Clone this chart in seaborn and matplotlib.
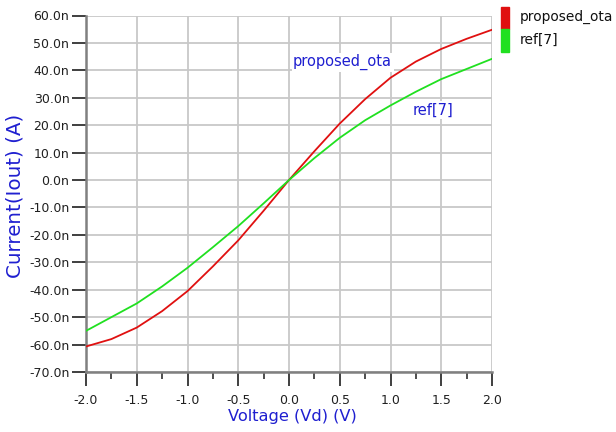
import matplotlib
matplotlib.use("Agg")
import matplotlib.pyplot as plt
import seaborn as sns
import pandas as pd
from matplotlib.patches import Rectangle
from matplotlib.ticker import FixedLocator, FixedFormatter, MultipleLocator

voltage = [-2.0, -1.75, -1.5, -1.25, -1.0, -0.75, -0.5, -0.25, 0.0,
           0.25, 0.5, 0.75, 1.0, 1.25, 1.5, 1.75, 2.0]
proposed_ota = [-60.7, -58.0, -53.8, -47.8, -40.5, -31.5, -22.0, -11.2, 0.0,
                10.5, 20.6, 29.5, 37.3, 43.2, 47.8, 51.5, 54.8]
ref7 = [-55.0, -50.0, -45.0, -38.8, -32.0, -24.5, -16.8, -8.5, 0.0,
        8.0, 15.4, 21.8, 27.2, 32.2, 36.8, 40.5, 44.2]
series_names = ["proposed_ota", "ref[7]"]
series_colors = ["#e01010", "#20e020"]

ytick_vals = [60, 50, 40, 30, 20, 10, 0, -10, -20, -30, -40, -50, -60, -70]
ytick_labels = ["60.0n", "50.0n", "40.0n", "30.0n", "20.0n", "10.0n", "0.0n",
                "-10.0n", "-20.0n", "-30.0n", "-40.0n", "-50.0n", "-60.0n", "-70.0n"]
xtick_vals = [-2.0, -1.5, -1.0, -0.5, 0.0, 0.5, 1.0, 1.5, 2.0]
xtick_labels = ["-2.0", "-1.5", "-1.0", "-0.5", "0.0", "0.5", "1.0", "1.5", "2.0"]

df = pd.DataFrame({
    "V": voltage * 2,
    "I": proposed_ota + ref7,
    "series": [series_names[0]] * len(voltage) + [series_names[1]] * len(voltage),
})

sns.set_theme(style="white")
plt.rcParams["font.family"] = ["DejaVu Sans"]

fig = plt.figure(figsize=(6.16, 4.32), dpi=100)
ax = fig.add_axes([86 / 616, 1 - 372 / 432, (492 - 86) / 616, (372 - 15.5) / 432])

sns.lineplot(data=df, x="V", y="I", hue="series", palette=series_colors,
             hue_order=series_names, ax=ax, legend=False, linewidth=1.3, zorder=3)

ax.set_xlim(-2.0, 2.0)
ax.set_ylim(-70, 60)
ax.yaxis.set_major_locator(FixedLocator(ytick_vals))
ax.yaxis.set_major_formatter(FixedFormatter(ytick_labels))
ax.xaxis.set_major_locator(FixedLocator(xtick_vals))
ax.xaxis.set_major_formatter(FixedFormatter(xtick_labels))
ax.xaxis.set_minor_locator(MultipleLocator(0.25))

ax.grid(True, which="major", color="#c8c8c8", linewidth=1.3, zorder=0)
ax.set_axisbelow(True)
for s in ["top", "right"]:
    ax.spines[s].set_visible(False)
for s in ["left", "bottom"]:
    ax.spines[s].set_color("#808080")
    ax.spines[s].set_linewidth(1.8)

ax.tick_params(axis="y", which="major", direction="out", length=10, width=1.3,
               color="#303030", labelsize=9, labelcolor="#202020", pad=2, left=True)
ax.tick_params(axis="x", which="major", direction="out", length=10, width=1.3,
               color="#303030", labelsize=9, labelcolor="#202020", pad=6, bottom=True)
ax.tick_params(axis="x", which="minor", direction="out", length=5, width=1.2,
               color="#303030", bottom=True)

ax.set_xlabel("Voltage (Vd) (V)", color="#1f1fd0", fontsize=11.7)
ax.set_ylabel("Current(Iout) (A)", color="#1f1fd0", fontsize=14.3)
ax.xaxis.set_label_coords(292 / 616, 1 - 417 / 432, transform=fig.transFigure)
ax.yaxis.set_label_coords(15 / 616, 1 - 196 / 432, transform=fig.transFigure)
ax.xaxis.label.set_va("center")
ax.yaxis.label.set_va("center")

ax.text(0.04, 43, "proposed_ota", color="#1f1fd0", fontsize=10.5, va="center", ha="left",
        bbox=dict(facecolor="white", edgecolor="none", pad=1), zorder=4)
ax.text(1.22, 25.5, "ref[7]", color="#1f1fd0", fontsize=10.5, va="center", ha="left",
        bbox=dict(facecolor="white", edgecolor="none", pad=1), zorder=4)

# legend on the right
fig.add_artist(Rectangle((501 / 616, 1 - 29 / 432), 8 / 616, 22 / 432,
                         transform=fig.transFigure, color=series_colors[0]))
fig.add_artist(Rectangle((501 / 616, 1 - 52 / 432), 8 / 616, 23 / 432,
                         transform=fig.transFigure, color=series_colors[1]))
fig.text(520 / 616, 1 - 17 / 432, series_names[0], fontsize=9.9, va="center", ha="left", color="#101010")
fig.text(520 / 616, 1 - 40 / 432, series_names[1], fontsize=9.9, va="center", ha="left", color="#101010")

fig.savefig("out.png", dpi=100)
